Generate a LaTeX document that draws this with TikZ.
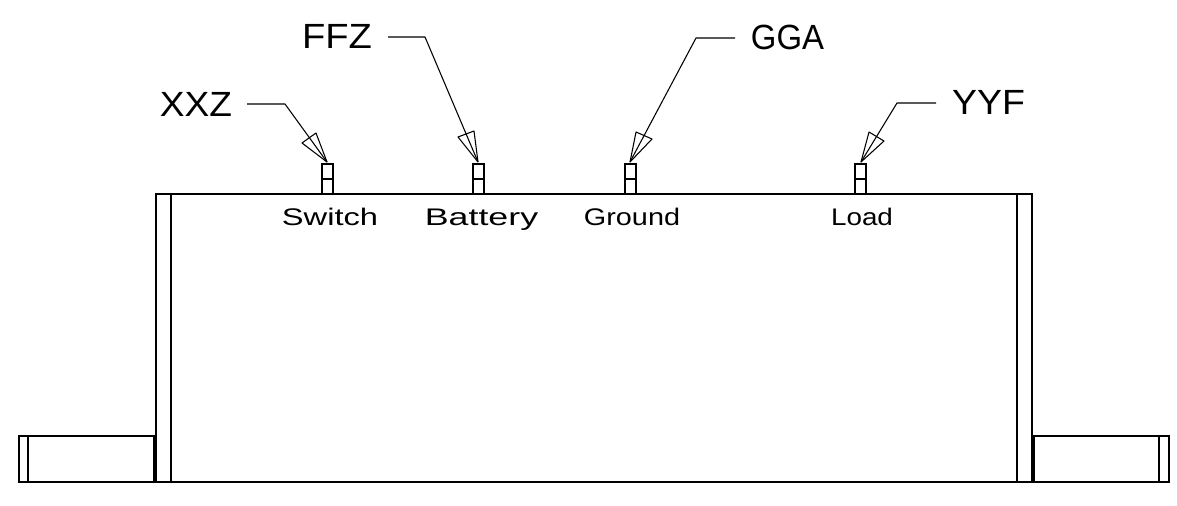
\documentclass[tikz,border=0pt]{standalone}
\usepackage{fontspec}
\usepackage{graphicx}
\setmainfont{Liberation Sans}
\tikzset{
  body/.style={draw=black,line width=1.35pt},
  thin part/.style={draw=black,line width=1.35pt},
  leader/.style={draw=black,line width=0.8pt},
  callout/.style={inner sep=0pt,anchor=base,font=\fontsize{26.25pt}{28pt}\selectfont},
  terminal/.style={inner sep=0pt,anchor=base,font=\fontsize{18pt}{20pt}\selectfont},
  pin/.style={draw=black,line width=1.35pt,minimum width=8.25pt,minimum height=22.5pt,inner sep=0pt,outer sep=0pt,anchor=south}
}
\newcommand{\wide}[2]{\scalebox{#1}[1]{#2}}
\begin{document}
\begin{tikzpicture}[x=0.75pt,y=-0.75pt]
\useasboundingbox (0,0) rectangle (1177,506);
% housing
\draw[body] (156,194) rectangle (1032,482);
\draw[thin part] (171,194) -- (171,482);
\draw[thin part] (1017,194) -- (1017,482);
% end tabs
\draw[body] (19,436) rectangle (156,482);
\draw[thin part] (28,436) -- (28,482);
\draw[line width=2.4pt] (154.5,436) -- (154.5,482);
\draw[body] (1032,436) rectangle (1169,482);
\draw[thin part] (1159,436) -- (1159,482);
\draw[line width=2.4pt] (1033.5,436) -- (1033.5,482);
% pins
\node[pin] (p1) at (327.5,194) {};
\node[pin] (p2) at (478.5,194) {};
\node[pin] (p3) at (630.5,194) {};
\node[pin] (p4) at (860.5,194) {};
\foreach \n in {p1,p2,p3,p4} \draw[line width=1.35pt] ([yshift=11.25pt]\n.south west) -- ([yshift=11.25pt]\n.south east);
% terminal labels
\node[terminal] (t1) at (330,225) {\wide{1.36}{Switch}};
\node[terminal] (t2) at (481.5,225) {\wide{1.49}{Battery}};
\node[terminal] (t3) at (632,225) {\wide{1.2}{Ground}};
\node[terminal] (t4) at (862,225) {\wide{1.16}{Load}};
% callouts
\node[callout] (xxz) at (196,117) {\wide{1.06}{XXZ}};
\node[callout] (ffz) at (337,49) {\wide{1.09}{FFZ}};
\node[callout] (gga) at (787.5,50) {\wide{0.94}{GGA}};
\node[callout] (yyf) at (988.5,115) {\wide{1.07}{YYF}};
% leaders
\coordinate (a1) at (247,104); \coordinate (b1) at (285,104); \coordinate (c1) at (327,162);
\coordinate (h1a) at (302,143); \coordinate (h1b) at (316,133);
\coordinate (a2) at (388,37); \coordinate (b2) at (425,37); \coordinate (c2) at (478,162);
\coordinate (h2a) at (458,137); \coordinate (h2b) at (474,131);
\coordinate (a3) at (735,38); \coordinate (b3) at (696,38); \coordinate (c3) at (630,162);
\coordinate (h3a) at (636,132); \coordinate (h3b) at (652,139);
\coordinate (a4) at (936,103); \coordinate (b4) at (897,103); \coordinate (c4) at (861,162);
\coordinate (h4a) at (869,132); \coordinate (h4b) at (884,141);
\foreach \i in {1,2,3,4} {
  \draw[leader,line join=round] (a\i) -- (b\i) -- (c\i);
  \draw[leader,line join=round] (c\i) -- (h\i a) -- (h\i b) -- cycle;
}
\end{tikzpicture}
\end{document}
